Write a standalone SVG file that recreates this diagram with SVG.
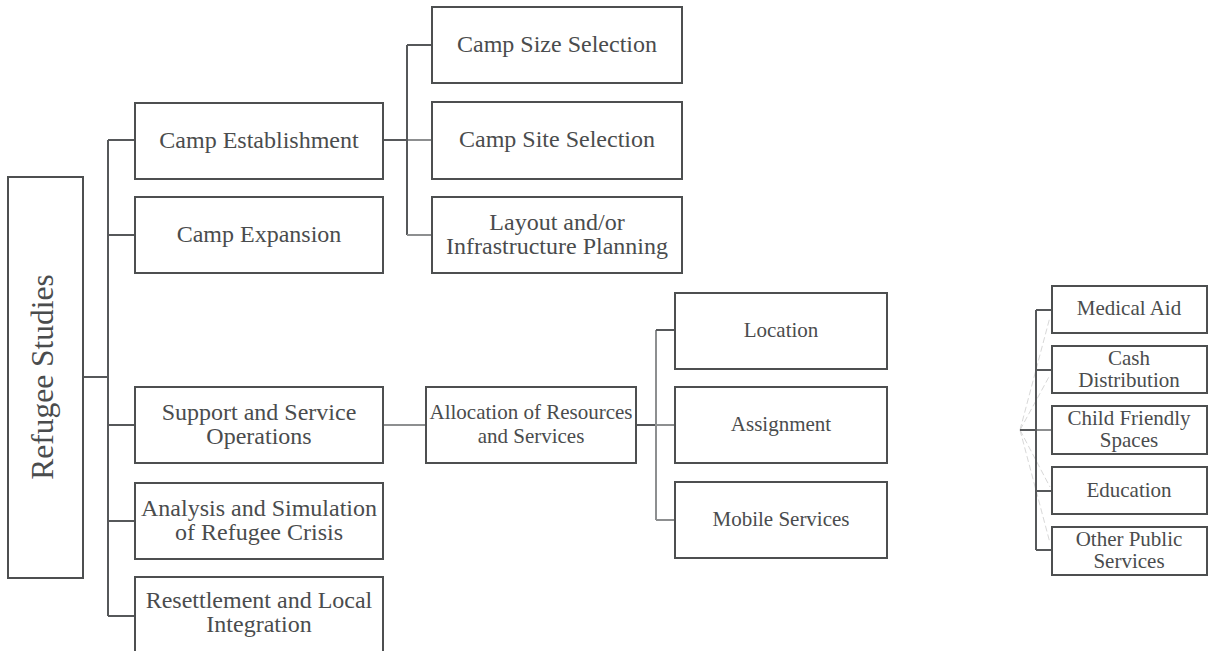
<svg xmlns="http://www.w3.org/2000/svg" width="1208" height="651" viewBox="0 0 1208 651">
<style>
.box{fill:#fff;stroke:#4d4f50;stroke-width:2}
text{font-family:'Liberation Serif','DejaVu Serif','Times New Roman',serif;fill:#4a4c4d;text-anchor:middle}
.l1{font-size:24px}
.l3{font-size:21px}
.rt{font-size:31.5px}
.c{fill:none;stroke:#56585a;stroke-width:2}
.cl{fill:none;stroke:#8d8f90;stroke-width:2}
.cf{fill:none;stroke:#d8d8d8;stroke-width:1;stroke-dasharray:6 3}
</style>
<rect width="1208" height="651" fill="#fff"/>
<g id="connectors">
<path class="c" d="M83 377H108M108 140V616M108 140H135M108 235H135M108 425H135M108 521H135M108 616H135"/>
<path class="c" d="M383 140H407" stroke-width="3"/>
<path class="cl" d="M407 140H432"/>
<path class="c" d="M407 45V235M407 45H432"/>
<path class="cl" d="M407 235H432"/>
<path class="cl" d="M383 425H426"/>
<path class="c" d="M636 425H656" stroke-width="3"/>
<path class="cl" d="M656 425H675M656 330V520M656 520H675"/>
<path class="c" d="M656 330H675"/>
<path class="cf" d="M1020 430L1050 317M1020 430L1050 375M1020 430L1050 487M1020 430L1050 543"/>
<path class="c" d="M1020 430H1036" stroke-width="2.5"/>
<path class="cl" d="M1036 430H1052"/>
<path class="c" d="M1036 310V550M1036 310H1052M1036 370H1052M1036 491H1052M1036 550H1052"/>
</g>
<g id="root">
<rect class="box" x="8" y="177" width="75" height="401"/>
<text class="rt" font-family="Liberation Serif, serif" transform="translate(53 377) rotate(-90)">Refugee Studies</text>
</g>
<g id="camp-establishment">
<rect class="box" x="135" y="103" width="248" height="76"/>
<text class="l1" x="259" y="148">Camp Establishment</text>
</g>
<g id="camp-expansion">
<rect class="box" x="135" y="197" width="248" height="76"/>
<text class="l1" x="259" y="242">Camp Expansion</text>
</g>
<g id="support">
<rect class="box" x="135" y="387" width="248" height="76"/>
<text class="l1" x="259" y="420">Support and Service</text>
<text class="l1" x="259" y="444">Operations</text>
</g>
<g id="analysis">
<rect class="box" x="135" y="483" width="248" height="76"/>
<text class="l1" x="259" y="516">Analysis and Simulation</text>
<text class="l1" x="259" y="540">of Refugee Crisis</text>
</g>
<g id="resettlement">
<rect class="box" x="135" y="577" width="248" height="80"/>
<text class="l1" x="259" y="608">Resettlement and Local</text>
<text class="l1" x="259" y="632">Integration</text>
</g>
<g id="camp-size">
<rect class="box" x="432" y="7" width="250" height="76"/>
<text class="l1" x="557" y="52">Camp Size Selection</text>
</g>
<g id="camp-site">
<rect class="box" x="432" y="102" width="250" height="77"/>
<text class="l1" x="557" y="147">Camp Site Selection</text>
</g>
<g id="layout">
<rect class="box" x="432" y="197" width="250" height="76"/>
<text class="l1" x="557" y="230">Layout and/or</text>
<text class="l1" x="557" y="254">Infrastructure Planning</text>
</g>
<g id="allocation">
<rect class="box" x="426" y="387" width="210" height="76"/>
<text class="l3" x="531" y="419">Allocation of Resources</text>
<text class="l3" x="531" y="443">and Services</text>
</g>
<g id="location">
<rect class="box" x="675" y="293" width="212" height="76"/>
<text class="l3" x="781" y="337">Location</text>
</g>
<g id="assignment">
<rect class="box" x="675" y="387" width="212" height="76"/>
<text class="l3" x="781" y="431">Assignment</text>
</g>
<g id="mobile">
<rect class="box" x="675" y="482" width="212" height="76"/>
<text class="l3" x="781" y="526">Mobile Services</text>
</g>
<g id="medical">
<rect class="box" x="1052" y="286" width="155" height="47"/>
<text class="l3" x="1129" y="315">Medical Aid</text>
</g>
<g id="cash">
<rect class="box" x="1052" y="346" width="155" height="47"/>
<text class="l3" x="1129" y="365">Cash</text>
<text class="l3" x="1129" y="387">Distribution</text>
</g>
<g id="child">
<rect class="box" x="1052" y="406" width="155" height="48"/>
<text class="l3" x="1129" y="425">Child Friendly</text>
<text class="l3" x="1129" y="447">Spaces</text>
</g>
<g id="education">
<rect class="box" x="1052" y="467" width="155" height="47"/>
<text class="l3" x="1129" y="497">Education</text>
</g>
<g id="other">
<rect class="box" x="1052" y="527" width="155" height="48"/>
<text class="l3" x="1129" y="546">Other Public</text>
<text class="l3" x="1129" y="568">Services</text>
</g>
</svg>
